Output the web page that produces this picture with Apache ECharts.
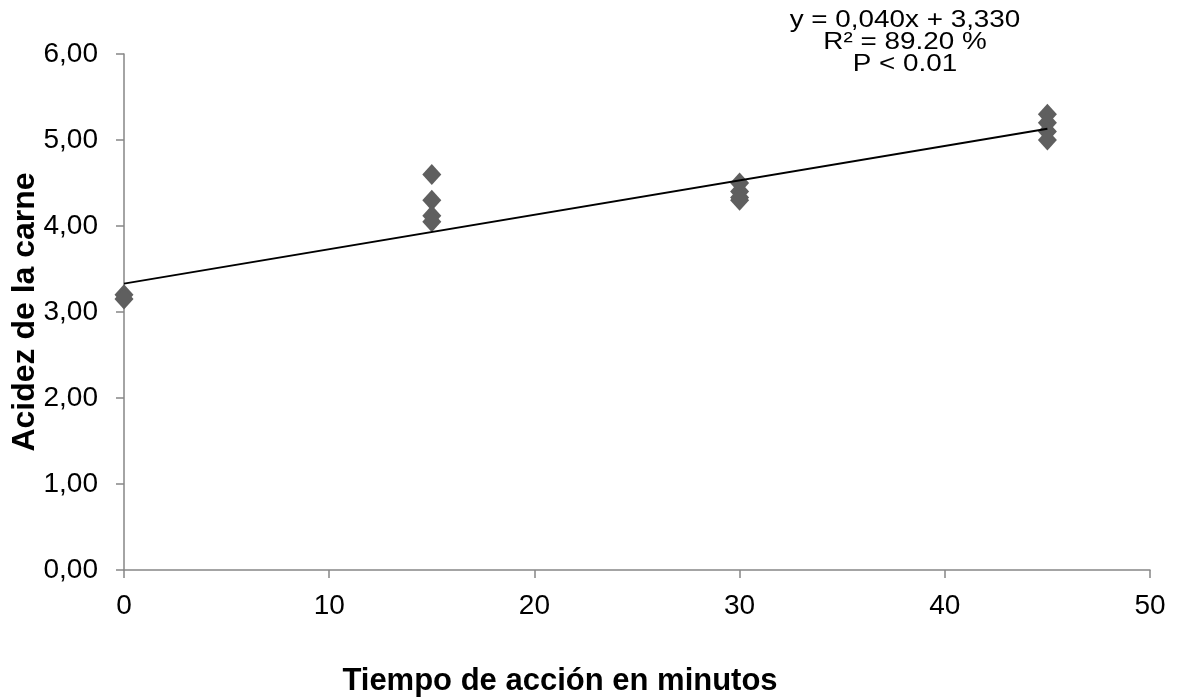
<!DOCTYPE html>
<html>
<head>
<meta charset="utf-8">
<script src="https://cdn.jsdelivr.net/npm/echarts@6/dist/echarts.min.js"></script>
<style>html,body{margin:0;padding:0;background:#fff;}#c{width:1179px;height:697px;}</style>
</head>
<body>
<div id="c"></div>
<script>
const minutes = [0, 0, 15, 15, 15, 15, 30, 30, 30, 30, 45, 45, 45, 45];
const acidity = [3.20, 3.15, 4.60, 4.30, 4.12, 4.05, 4.50, 4.40, 4.33, 4.30, 5.30, 5.20, 5.10, 5.00];
const slope = 0.040;
const intercept = 3.330;
const trendX = [0, 45];
const eqLines = ['y = 0,040x + 3,330', 'R² = 89.20 %', 'P < 0.01'];
const xTitle = 'Tiempo de acción en minutos';
const yTitle = 'Acidez de la carne';

const points = minutes.map((x, i) => [x, acidity[i]]);
const trend = trendX.map(x => [x, intercept + slope * x]);

const chart = echarts.init(document.getElementById('c'), null, {renderer: 'canvas'});
const font = 'Liberation Sans, Arial, sans-serif';
chart.setOption({
  animation: false,
  backgroundColor: '#fff',
  grid: {left: 124, right: 29, top: 54, bottom: 127, containLabel: false, outerBoundsMode: 'none'},
  graphic: eqLines.map((t, i) => ({
    type: 'text',
    x: 905, y: 20 + i * 22,
    scaleX: 1.16,
    style: {text: t, font: '24px ' + font, fill: '#000', align: 'center', verticalAlign: 'middle'}
  })),
  xAxis: {
    type: 'value', min: 0, max: 50, interval: 10,
    name: xTitle, nameLocation: 'middle', nameGap: 96, nameMoveOverlap: false,
    nameTextStyle: {fontFamily: font, fontSize: 31, fontWeight: 'bold', color: '#000', padding: [0, 154, 0, 0]},
    axisLine: {lineStyle: {color: '#868686', width: 1.5}},
    axisTick: {show: true, length: 8, lineStyle: {color: '#868686', width: 1.5}},
    axisLabel: {fontFamily: font, fontSize: 28, color: '#000', margin: 22},
    splitLine: {show: false}
  },
  yAxis: {
    type: 'value', min: 0, max: 6, interval: 1,
    name: yTitle, nameLocation: 'middle', nameGap: 83, nameRotate: 90, nameMoveOverlap: false,
    nameTextStyle: {fontFamily: font, fontSize: 32, fontWeight: 'bold', color: '#000'},
    axisLine: {show: true, lineStyle: {color: '#868686', width: 1.5}},
    axisTick: {show: true, length: 8, lineStyle: {color: '#868686', width: 1.5}},
    axisLabel: {fontFamily: font, fontSize: 28, color: '#000', margin: 26,
      formatter: v => v.toFixed(2).replace('.', ',')},
    splitLine: {show: false}
  },
  series: [
    {
      type: 'scatter', data: points, symbol: 'diamond', symbolSize: [19, 21],
      itemStyle: {color: '#5f5f5f', opacity: 1}, z: 2
    },
    {
      type: 'line', data: trend, showSymbol: false, symbol: 'none',
      lineStyle: {color: '#000', width: 2}, z: 3
    }
  ]
});
</script>
</body>
</html>
